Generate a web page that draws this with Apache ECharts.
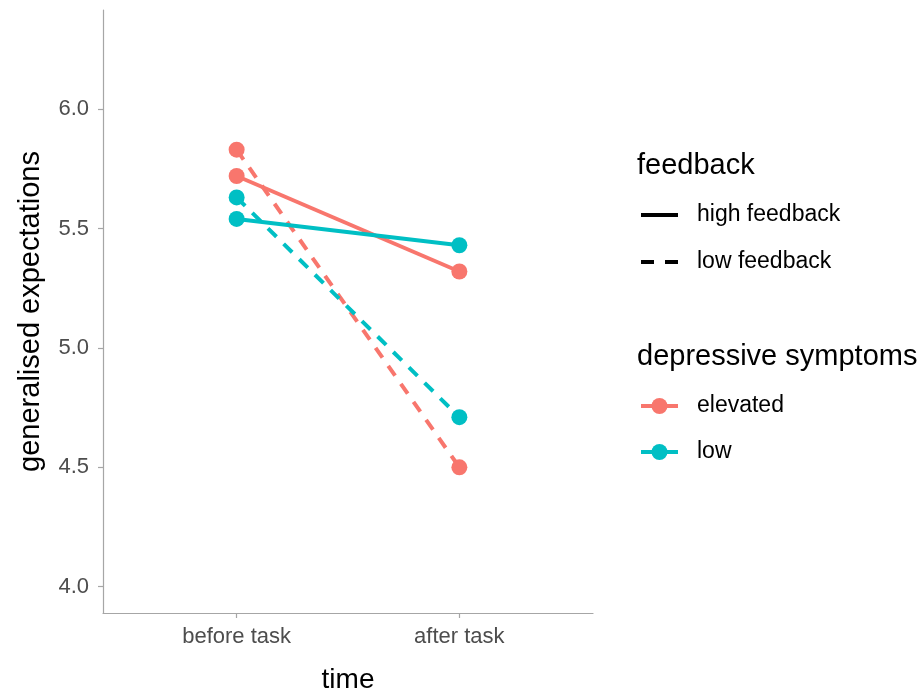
<!DOCTYPE html>
<html><head><meta charset="utf-8">
<script src="https://cdn.jsdelivr.net/npm/echarts@6/dist/echarts.min.js"></script>
<style>html,body{margin:0;padding:0;background:#fff}#c{width:921px;height:690px}</style>
</head><body><div id="c"></div>
<script>
// Data
const timeLabels = ['before task', 'after task'];
const timePositions = [1, 2];
const yTicks = [4.0, 4.5, 5.0, 5.5, 6.0];
const elevatedHigh = [5.72, 5.32];
const elevatedLow = [5.83, 4.50];
const lowHigh = [5.54, 5.43];
const lowLow = [5.63, 4.71];

const RED = '#F8766D', CYAN = '#00BFC4';
const FONT = 'Liberation Sans, Arial, sans-serif';

function pts(vals){ return vals.map((v,i)=>[timePositions[i], v]); }
function mk(name, vals, color, dashed){
  return {
    name, type:'line', data: pts(vals),
    symbol:'circle', symbolSize:16, showSymbol:true,
    lineStyle:{color, width:4, type: dashed ? [12,10] : 'solid'},
    itemStyle:{color},
    emphasis:{disabled:true}, animation:false, z: dashed?2:3
  };
}

const chart = echarts.init(document.getElementById('c'), null, {renderer:'canvas'});
chart.setOption({
  backgroundColor:'#fff',
  animation:false,
  grid:{left:103, right:328, top:10, bottom:77, containLabel:false, outerBoundsMode:'none'},
  xAxis:{
    type:'value', min:0.4, max:2.6,
    name:'time', nameLocation:'middle', nameGap:53,
    nameTextStyle:{fontFamily:FONT, fontSize:28, color:'#000'},
    axisLine:{show:true, onZero:false, lineStyle:{color:'#A6A6A6', width:1.2}},
    axisTick:{show:true, length:5, customValues:timePositions, lineStyle:{color:'#A6A6A6', width:1.2}},
    axisLabel:{customValues:timePositions, margin:13, fontFamily:FONT, fontSize:22, color:'#4D4D4D',
      formatter:(v)=>{ const i = timePositions.indexOf(Math.round(v)); return i>=0 ? timeLabels[i] : ''; }},
    splitLine:{show:false}
  },
  yAxis:{
    type:'value', min:3.89, max:6.415,
    name:'generalised expectations', nameLocation:'middle', nameRotate:90, nameGap:58,
    nameTextStyle:{fontFamily:FONT, fontSize:29, color:'#000'},
    axisLine:{show:true, onZero:false, lineStyle:{color:'#A6A6A6', width:1.2}},
    axisTick:{show:true, length:5, customValues:yTicks, lineStyle:{color:'#A6A6A6', width:1.2}},
    axisLabel:{customValues:yTicks, margin:14, fontFamily:FONT, fontSize:22, color:'#4D4D4D',
      formatter:(v)=>v.toFixed(1)},
    splitLine:{show:false}
  },
  series:[
    mk('elevated low', elevatedLow, RED, true),
    mk('low low', lowLow, CYAN, true),
    mk('elevated high', elevatedHigh, RED, false),
    mk('low high', lowHigh, CYAN, false)
  ],
  graphic:[
    {type:'text', x:637, y:166, style:{text:'feedback', fontFamily:FONT, fontSize:29, fill:'#000', verticalAlign:'middle'}},
    {type:'line', shape:{x1:641,y1:215,x2:678,y2:215}, style:{stroke:'#000', lineWidth:4}},
    {type:'text', x:697, y:215, style:{text:'high feedback', fontFamily:FONT, fontSize:23, fill:'#000', verticalAlign:'middle'}},
    {type:'line', shape:{x1:641,y1:262,x2:678,y2:262}, style:{stroke:'#000', lineWidth:4, lineDash:[13,11]}},
    {type:'text', x:697, y:262, style:{text:'low feedback', fontFamily:FONT, fontSize:23, fill:'#000', verticalAlign:'middle'}},
    {type:'text', x:637, y:357, style:{text:'depressive symptoms', fontFamily:FONT, fontSize:29, fill:'#000', verticalAlign:'middle'}},
    {type:'line', shape:{x1:641,y1:406,x2:678,y2:406}, style:{stroke:RED, lineWidth:4}},
    {type:'circle', shape:{cx:659.5,cy:406,r:8}, style:{fill:RED}},
    {type:'text', x:697, y:406, style:{text:'elevated', fontFamily:FONT, fontSize:23, fill:'#000', verticalAlign:'middle'}},
    {type:'line', shape:{x1:641,y1:452,x2:678,y2:452}, style:{stroke:CYAN, lineWidth:4}},
    {type:'circle', shape:{cx:659.5,cy:452,r:8}, style:{fill:CYAN}},
    {type:'text', x:697, y:452, style:{text:'low', fontFamily:FONT, fontSize:23, fill:'#000', verticalAlign:'middle'}}
  ]
});
</script></body></html>
